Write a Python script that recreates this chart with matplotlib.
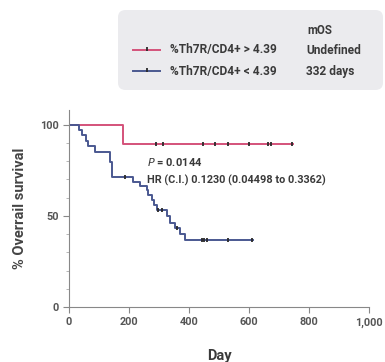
import matplotlib
matplotlib.use("Agg")
import matplotlib.pyplot as plt
from matplotlib.patches import FancyBboxPatch
from matplotlib.lines import Line2D

plt.rcParams['font.family'] = ['Roboto', 'DejaVu Sans']

# survival steps (days, % surviving)
high_t = [0, 180, 745]
high_s = [100, 89.5, 89.5]
high_cens_t = [289, 312, 448, 488, 531, 601, 662, 672, 742]
high_cens_s = [89.5] * 9

low_t = [0, 33, 42, 57, 64, 87, 137, 142, 214, 237, 259, 264, 276, 283, 292,
         326, 337, 353, 370, 387, 612]
low_s = [100, 97.3, 94.5, 91.2, 88.3, 85.2, 79.5, 71.0, 68.8, 66.5, 64.0, 61.5,
         58.8, 56.0, 53.3, 49.8, 46.3, 43.2, 40.2, 36.8, 36.8]
low_cens_t = [187, 298, 309, 359, 442, 451, 459, 531, 610]
low_cens_s = [71.0, 53.3, 53.3, 43.2, 36.8, 36.8, 36.8, 36.8, 36.8]

labels = ['%Th7R/CD4+ > 4.39', '%Th7R/CD4+ < 4.39']
mos = ['Undefined', '332 days']
xticks = [0, 200, 400, 600, 800, 1000]
xticklabels = ['0', '200', '400', '600', '800', '1,000']

red = '#d4527a'
blue = '#4a5890'
txt = '#3a3a3a'

fig = plt.figure(figsize=(3.85, 3.62), dpi=100)
ax = fig.add_axes([69/385, 1 - 307/362, 300/385, 197/362])

ax.step(high_t, high_s, where='post', color=red, lw=1.4)
ax.step(low_t, low_s, where='post', color=blue, lw=1.4)
ax.plot(high_cens_t, high_cens_s, ls='none', marker='|', ms=3, mew=1.3, color='#2a2a2a')
ax.plot(low_cens_t, low_cens_s, ls='none', marker='|', ms=3, mew=1.3, color='#2a2a2a')

ax.set_xlim(0, 1000)
ax.set_ylim(0, 108)
ax.set_xticks(xticks)
ax.set_xticklabels(xticklabels)
ax.set_yticks([0, 50, 100])
ax.set_yticks(range(0, 101, 10), minor=True)
for s in ['top', 'right']:
    ax.spines[s].set_visible(False)
for s in ['left', 'bottom']:
    ax.spines[s].set_color('#888888')
    ax.spines[s].set_linewidth(0.8)
ax.tick_params(axis='both', which='major', length=4, width=0.8, color='#888888',
               labelsize=7.8, labelcolor='#555555')
ax.tick_params(axis='x', which='minor', length=0)
ax.tick_params(axis='y', which='minor', length=2.5, width=0.6, color='#aaaaaa')
for lab in ax.get_xticklabels() + ax.get_yticklabels():
    lab.set_fontweight('bold')

ax.set_xlabel('Day', fontsize=10.5, fontweight='bold', color=txt, labelpad=15)
ax.set_ylabel('% Overrail survival', fontsize=10.5, fontweight='bold', color='#444444',
              labelpad=9)

ax.text(260, 79.5, '$\\bf{\\it{P}}$ = 0.0144', fontsize=8, fontweight='bold',
        color=txt, va='center')
ax.text(260, 69.3, 'HR (C.I.) 0.1230 (0.04498 to 0.3362)', fontsize=7.8,
        fontweight='bold', color=txt, va='center')

# legend box
box = FancyBboxPatch((118/385, 1 - 90/362), 265/385, 80/362,
                     boxstyle='round,pad=0,rounding_size=0.02',
                     transform=fig.transFigure, facecolor='#ebebee',
                     edgecolor='none')
fig.patches.append(box)
fig.text(307/385, 1 - 30/362, 'mOS', fontsize=8.3, fontweight='bold', color=txt,
         va='center')
rows_y = [50, 71]
for yy, lab, m, c in zip(rows_y, labels, mos, [red, blue]):
    fy = 1 - yy/362
    fig.lines.append(Line2D([133/385, 160/385], [fy, fy], color=c, lw=1.4,
                            transform=fig.transFigure))
    fig.lines.append(Line2D([147/385], [fy + 0.004], ls='none', marker='|', ms=3,
                            mew=1.3, color='#2a2a2a', transform=fig.transFigure))
    fig.text(170/385, fy, lab, fontsize=8.6, fontweight='bold', color=txt, va='center')
    fig.text(306/385, fy, m, fontsize=8.6, fontweight='bold', color=txt, va='center')

fig.savefig('out.png', dpi=100)
